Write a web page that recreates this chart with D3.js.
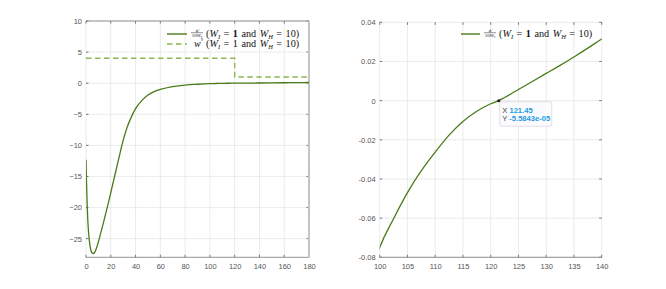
<!DOCTYPE html>
<html><head><meta charset="utf-8">
<script src="https://cdn.jsdelivr.net/npm/d3@7"></script>
<style>body{margin:0;background:#fff}svg{display:block}</style>
</head><body>
<svg id="chart" width="666" height="289"></svg>
<script>
// ---- data ----
const timeValues = [0,0.5,1,1.5,2,3,4,5,6,7,8,10,12,14,16,18,20,22,24,26,28,30,33,36,40,45,50,55,60,70,80,90,100,102.5,105,107.5,110,112.5,115,117.5,120,121.45,122.5,125,127.5,130,132.5,135,137.5,140,150,160,170,180];
const phiValues  = [-12.3,-16.5,-19.8,-22.2,-23.8,-25.8,-26.9,-27.3,-27.4,-27.2,-26.8,-25.5,-24.0,-22.5,-20.9,-19.3,-17.6,-15.9,-14.2,-12.5,-10.8,-9.2,-7.2,-5.7,-4.1,-2.8,-1.9,-1.35,-1.0,-0.55,-0.3,-0.17,-0.075,-0.0603,-0.0470,-0.0358,-0.0263,-0.0176,-0.0106,-0.0054,-0.0016,0,0.0016,0.0057,0.0098,0.0139,0.0180,0.0223,0.0268,0.0315,0.05,0.07,0.09,0.11];
const setpointTime = [0,120,120,180];
const setpointValues = [4,4,1,1];
const leftXTicks = [0,20,40,60,80,100,120,140,160,180];
const leftYTicks = [-25,-20,-15,-10,-5,0,5,10];
const rightXTicks = [100,105,110,115,120,125,130,135,140];
const rightYTicks = [-0.08,-0.06,-0.04,-0.02,0,0.02,0.04];
const rightYLabels = ["-0.08","-0.06","-0.04","-0.02","0","0.02","0.04"];
const tipX = 121.45, tipY = -5.5843e-05;
const tipLabels = ["121.45","-5.5843e-05"];

const darkGreen = "#4b7a1a", lightGreen = "#8cb650";
const svg = d3.select("#chart");
const pts = timeValues.map((t,i)=>({x:t,y:phiValues[i]}));
const sp = setpointTime.map((t,i)=>({x:t,y:setpointValues[i]}));

function panel(id, xDom, yDom, xR, yR, xTicks, yTicks, yFmt, boxed){
  const x = d3.scaleLinear().domain(xDom).range(xR);
  const y = d3.scaleLinear().domain(yDom).range(yR);
  const g = svg.append("g");
  g.selectAll(".gx").data(xTicks).join("line")
    .attr("x1",d=>x(d)).attr("x2",d=>x(d)).attr("y1",yR[0]).attr("y2",yR[1])
    .attr("stroke","#e6e6e6").attr("stroke-width",0.8);
  g.selectAll(".gy").data(yTicks).join("line")
    .attr("y1",d=>y(d)).attr("y2",d=>y(d)).attr("x1",xR[0]).attr("x2",xR[1])
    .attr("stroke","#e6e6e6").attr("stroke-width",0.8);
  const ax = d3.axisBottom(x).tickValues(xTicks).tickSize(0).tickPadding(6);
  const axG = g.append("g").attr("transform",`translate(0,${yR[0]})`).call(ax);
  const ay = d3.axisLeft(y).tickValues(yTicks).tickSize(0).tickPadding(4).tickFormat(yFmt);
  const ayG = g.append("g").attr("transform",`translate(${xR[0]},0)`).call(ay);
  [axG,ayG].forEach(a=>{
    a.select(".domain").remove();
    a.selectAll("text").attr("font-family","Liberation Sans, Arial, sans-serif").attr("font-size",7.5).attr("fill","#555");
  });
  const tl = 2.5;
  g.selectAll(".tb").data(xTicks).join("line").attr("x1",d=>x(d)).attr("x2",d=>x(d)).attr("y1",yR[0]).attr("y2",yR[0]-tl).attr("stroke","#777");
  g.selectAll(".tt").data(xTicks).join("line").attr("x1",d=>x(d)).attr("x2",d=>x(d)).attr("y1",yR[1]).attr("y2",yR[1]+tl).attr("stroke","#777");
  g.selectAll(".tl").data(yTicks).join("line").attr("y1",d=>y(d)).attr("y2",d=>y(d)).attr("x1",xR[0]).attr("x2",xR[0]+tl).attr("stroke","#777");
  g.selectAll(".tr").data(yTicks).join("line").attr("y1",d=>y(d)).attr("y2",d=>y(d)).attr("x1",xR[1]).attr("x2",xR[1]-tl).attr("stroke","#777");
  g.append("line").attr("x1",xR[0]).attr("x2",xR[1]).attr("y1",yR[0]).attr("y2",yR[0]).attr("stroke","#888").attr("stroke-width",0.9);
  if(boxed){
    g.append("line").attr("x1",xR[0]).attr("x2",xR[1]).attr("y1",yR[1]).attr("y2",yR[1]).attr("stroke","#888").attr("stroke-width",0.9);
    g.append("line").attr("x1",xR[1]).attr("x2",xR[1]).attr("y1",yR[1]).attr("y2",yR[0]).attr("stroke","#c4c4c4").attr("stroke-width",2);
  }
  svg.append("clipPath").attr("id",id).append("rect")
    .attr("x",xR[0]).attr("y",yR[1]).attr("width",xR[1]-xR[0]).attr("height",yR[0]-yR[1]);
  return {x,y,g};
}

function legendText(g, x0, y0, first){
  const t = g.append("g").attr("font-family","Liberation Serif, Times New Roman, serif").attr("fill","#111");
  if(first){
    t.append("text").attr("x",x0+7).attr("y",y0-1.8).attr("text-anchor","middle").attr("font-size",5).attr("font-style","italic").text("\u03D5\u0307");
    t.append("line").attr("x1",x0+1).attr("x2",x0+13).attr("y1",y0-0.8).attr("y2",y0-0.8).attr("stroke","#111").attr("stroke-width",0.45);
    const d = t.append("text").attr("x",x0+7).attr("y",y0+3.6).attr("text-anchor","middle").attr("font-size",5);
    d.append("tspan").text("10");
    d.append("tspan").attr("font-style","italic").text("W");
    d.append("tspan").attr("font-size",3.5).attr("dy",0.8).text("c");
  } else {
    const w = t.append("text").attr("x",x0+4).attr("y",y0+3.3).attr("font-size",10);
    w.append("tspan").attr("font-style","italic").text("w");
    w.append("tspan").attr("font-size",6).attr("dy",-4).text("\u00B0");
  }
  const tx = t.append("text").attr("x",x0+16).attr("y",y0+3.3).attr("font-size",10.2);
  tx.append("tspan").text("(");
  tx.append("tspan").attr("font-style","italic").text("W");
  tx.append("tspan").attr("font-size",6.5).attr("font-style","italic").attr("dy",1.8).text("I");
  tx.append("tspan").attr("dy",-1.8).attr("dx",3.5).text("=");
  tx.append("tspan").attr("dx",3.5).attr("font-weight",first?"bold":"normal").text("1");
  tx.append("tspan").attr("dx",3.5).text("and");
  tx.append("tspan").attr("dx",3.5).attr("font-style","italic").text("W");
  tx.append("tspan").attr("font-size",6.5).attr("font-style","italic").attr("dy",1.8).text("H");
  tx.append("tspan").attr("dy",-1.8).attr("dx",3.5).text("=");
  tx.append("tspan").attr("dx",3.5).text("10)");
}

// ---- left panel ----
const L = panel("clipL",[0,180],[-28,10],[86,309],[257.3,21],leftXTicks,leftYTicks,d3.format("d"),true);
const lineL = d3.line().x(d=>L.x(d.x)).y(d=>L.y(d.y)).curve(d3.curveMonotoneX);
L.g.append("path").datum(sp).attr("clip-path","url(#clipL)")
  .attr("d",d3.line().x(d=>L.x(d.x)).y(d=>L.y(d.y)))
  .attr("fill","none").attr("stroke",lightGreen).attr("stroke-width",1.4).attr("stroke-dasharray","5.5,3.5");
L.g.append("path").datum(pts).attr("clip-path","url(#clipL)").attr("d",lineL)
  .attr("fill","none").attr("stroke",darkGreen).attr("stroke-width",1.3);
L.g.append("line").attr("x1",167).attr("x2",187).attr("y1",34).attr("y2",34).attr("stroke",darkGreen).attr("stroke-width",1.4);
L.g.append("line").attr("x1",167).attr("x2",187).attr("y1",44).attr("y2",44).attr("stroke",lightGreen).attr("stroke-width",1.4).attr("stroke-dasharray","5.5,3.5");
legendText(L.g,190,33.5,true);
legendText(L.g,190,44,false);

// ---- right panel ----
const R = panel("clipR",[100,140],[-0.08,0.04],[379.7,601.7],[257.3,22.3],rightXTicks,rightYTicks,(d,i)=>rightYLabels[i],false);
const lineR = d3.line().x(d=>R.x(d.x)).y(d=>R.y(d.y)).curve(d3.curveCatmullRom.alpha(0.5));
R.g.append("path").datum(pts.filter(d=>d.x>=90&&d.x<=150)).attr("clip-path","url(#clipR)").attr("d",lineR)
  .attr("fill","none").attr("stroke",darkGreen).attr("stroke-width",1.3);
R.g.append("line").attr("x1",461).attr("x2",480).attr("y1",34).attr("y2",34).attr("stroke",darkGreen).attr("stroke-width",1.4);
legendText(R.g,483,33.5,true);

// datatip
const px = R.x(tipX), py = R.y(tipY);
R.g.append("rect").attr("x",px+1).attr("y",py+1).attr("width",52).attr("height",24.5).attr("rx",1.5)
  .attr("fill","#fbfbfd").attr("stroke","#d8d8e0").attr("stroke-width",0.8);
R.g.append("circle").attr("cx",px).attr("cy",py).attr("r",1.6).attr("fill","#222");
const tipG = R.g.append("g").attr("font-family","Liberation Sans, Arial, sans-serif").attr("font-size",7.6);
["X","Y"].forEach((k,i)=>{
  const tt = tipG.append("text").attr("x",px+3.5).attr("y",py+11.8+i*8.4);
  tt.append("tspan").attr("fill","#444").text(k+" ");
  tt.append("tspan").attr("fill","#1a9be6").attr("font-weight","bold").text(tipLabels[i]);
});
</script>
</body></html>
